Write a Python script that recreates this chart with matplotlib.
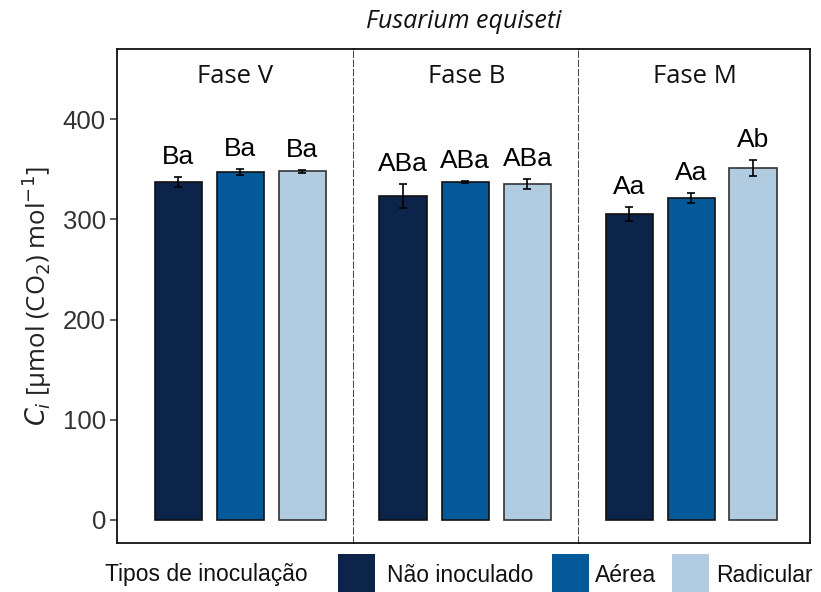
import matplotlib
matplotlib.use("Agg")
import matplotlib.pyplot as plt
from matplotlib.patches import Rectangle
import numpy as np

phases = ["Fase V", "Fase B", "Fase M"]
treatments = ["Não inoculado", "Aérea", "Radicular"]
colors = ["#0c2449", "#04599a", "#b1cbe1"]
edgecolors = ["#111111", "#111111", "#333333"]

means = {
    "Fase V": [337, 347, 348],
    "Fase B": [323, 337, 335],
    "Fase M": [305, 321, 351],
}
errors = {
    "Fase V": [5, 3, 1.5],
    "Fase B": [12, 1, 5],
    "Fase M": [7, 5, 8],
}
letters = {
    "Fase V": ["Ba", "Ba", "Ba"],
    "Fase B": ["ABa", "ABa", "ABa"],
    "Fase M": ["Aa", "Aa", "Ab"],
}
yticks = [0, 100, 200, 300, 400]

W, H = 821, 592
fig = plt.figure(figsize=(W / 100, H / 100), dpi=100)

left, right, top, bottom = 117, 810, 49, 543
panel_px = [237, 225, 231]
xlims = [(-0.99, 2.84), (-0.79, 2.83), (-0.81, 2.92)]

x0 = left
axes = []
for i, ph in enumerate(phases):
    ax = fig.add_axes([x0 / W, 1 - bottom / H, panel_px[i] / W, (bottom - top) / H])
    x0 += panel_px[i]
    axes.append(ax)
    x = np.arange(3)
    ax.bar(x, means[ph], width=0.76, color=colors, edgecolor=edgecolors, linewidth=1.2, zorder=2)
    ax.errorbar(x, means[ph], yerr=errors[ph], fmt="none", ecolor="black",
                elinewidth=1.2, capsize=3, capthick=1.2, zorder=3)
    for xi, m, e, lab in zip(x, means[ph], errors[ph], letters[ph]):
        ax.text(xi, m + e + 8, lab, ha="center", va="bottom",
                fontsize=19, family="Liberation Sans", color="black")
    ax.set_xlim(*xlims[i])
    ax.set_ylim(-23, 470)
    ax.set_xticks([])
    ax.text(0.5, 0.944, ph, transform=ax.transAxes, ha="center", va="center",
            fontsize=18.5, family="Open Sans", color="#111111")
    for s in ax.spines.values():
        s.set_linewidth(1.3)
        s.set_color("#111111")
    if i == 0:
        ax.set_yticks(yticks)
        ax.tick_params(axis="y", length=5, width=1.1, color="#333333",
                       labelsize=18.5, labelcolor="#333333", pad=3)
        for t in ax.get_yticklabels():
            t.set_family("Liberation Sans")
    else:
        ax.set_yticks([])
        ax.spines["left"].set_visible(False)
    if i < 2:
        ax.spines["right"].set_linestyle((0, (3.5, 2)))
        ax.spines["right"].set_linewidth(1.2)
        ax.spines["right"].set_color("#222222")

axes[0].set_ylabel(r"$\mathit{C_i}$ [μmol (CO$_2$) mol$^{-1}$]", fontsize=18.5,
                   family="Open Sans", color="#222222", labelpad=6)

fig.text((left + right) / 2 / W, 1 - 22 / H, "Fusarium equiseti", ha="center", va="center",
         fontsize=18, family="Open Sans", style="italic", color="#111111")

# legend
ly = 1 - 575 / H
fig.text(105 / W, ly, "Tipos de inoculação", ha="left", va="center",
         fontsize=16.5, family="Liberation Sans", color="#111111")
key_x = [338, 552, 672]
text_x = [387, 595, 716]
for kx, tx, c, lab in zip(key_x, text_x, colors, treatments):
    fig.patches.append(Rectangle((kx / W, 0), 37 / W, 38 / H, transform=fig.transFigure,
                                 facecolor=c, edgecolor="none"))
    fig.text(tx / W, ly, lab, ha="left", va="center", fontsize=16.5,
             family="Liberation Sans", color="#111111")

fig.savefig("out.png", dpi=100)
